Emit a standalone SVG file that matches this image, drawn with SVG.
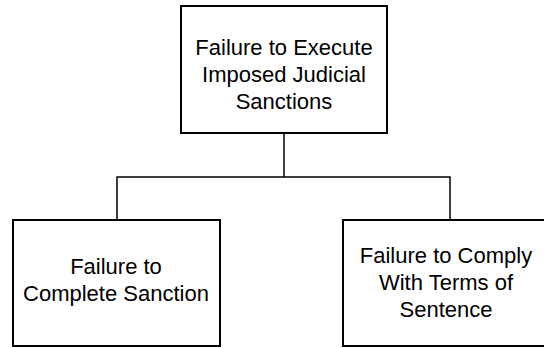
<svg xmlns="http://www.w3.org/2000/svg" width="544" height="348" viewBox="0 0 544 348">
  <style>
    .box { fill: #ffffff; stroke: #000000; stroke-width: 2; }
    .wire { fill: none; stroke: #000000; stroke-width: 1.5; }
    .label { font-family: "Liberation Sans", Arial, sans-serif; font-size: 22px; fill: #000000; text-anchor: middle; }
  </style>
  <rect width="544" height="348" fill="#ffffff"/>
  <g id="connectors">
    <path class="wire" d="M284 134 V177"/>
    <path class="wire" d="M117 220 V177 H450 V220"/>
  </g>
  <g id="root">
    <rect class="box" x="181" y="6" width="206" height="127"/>
    <text class="label" x="284" y="55">Failure to Execute</text>
    <text class="label" x="284" y="82">Imposed Judicial</text>
    <text class="label" x="284" y="109">Sanctions</text>
  </g>
  <g id="complete-sanction">
    <rect class="box" x="13" y="220" width="207" height="126"/>
    <text class="label" x="116" y="274">Failure to</text>
    <text class="label" x="116" y="301">Complete Sanction</text>
  </g>
  <g id="comply-terms">
    <rect class="box" x="343" y="220" width="204" height="126"/>
    <text class="label" x="446" y="263">Failure to Comply</text>
    <text class="label" x="446" y="290">With Terms of</text>
    <text class="label" x="446" y="317">Sentence</text>
  </g>
</svg>
